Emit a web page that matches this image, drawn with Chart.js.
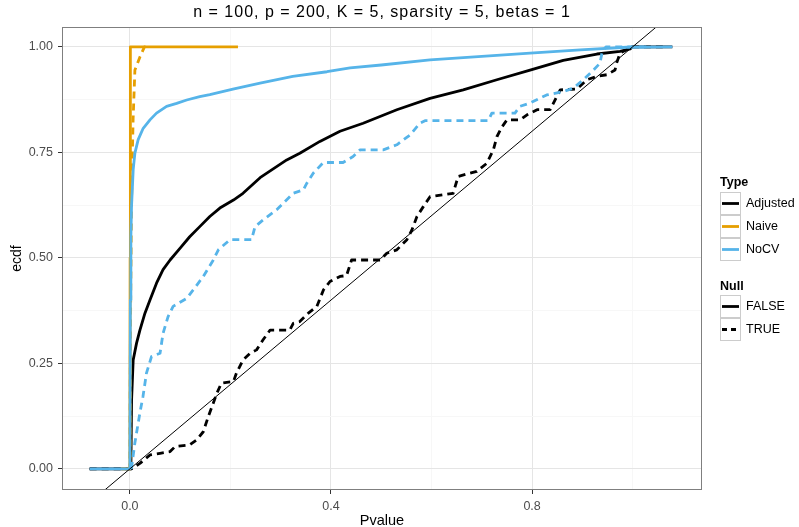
<!DOCTYPE html>
<html>
<head>
<meta charset="utf-8">
<script src="https://cdn.jsdelivr.net/npm/chart.js@4.4.1/dist/chart.umd.min.js"></script>
<style>
  html, body { margin: 0; padding: 0; background: #fff; }
  #wrap { width: 799px; height: 527px; }
</style>
</head>
<body>
<div id="wrap"><canvas id="ecdfChart" width="799" height="527"></canvas></div>
<script>
// eixos
const pvalueTicks = [0, 0.2, 0.4, 0.6, 0.8, 1.0];
const pvalueLabels = ['0.0', '', '0.4', '', '0.8', ''];
const ecdfTicks = [0, 0.125, 0.25, 0.375, 0.5, 0.625, 0.75, 0.875, 1.0];
const ecdfLabels = ['0.00', '', '0.25', '', '0.50', '', '0.75', '', '1.00'];

const chartTitle = 'n = 100, p = 200, K = 5, sparsity = 5, betas = 1';
const typeNames = ['Adjusted', 'Naive', 'NoCV'];
const nullNames = ['FALSE', 'TRUE'];

// Adjusted / FALSE
const adjustedFalseX = [-0.08, 0, 0.002, 0.0034, 0.0066, 0.0133, 0.020, 0.030, 0.040, 0.053, 0.066, 0.080, 0.100, 0.119, 0.139, 0.159, 0.179, 0.206, 0.225, 0.259, 0.312, 0.338, 0.378, 0.418, 0.464, 0.531, 0.597, 0.663, 0.730, 0.796, 0.862, 0.929, 0.975, 0.995, 0.999, 1.079];
const adjustedFalseY = [0, 0, 0, 0.164, 0.258, 0.298, 0.329, 0.369, 0.400, 0.440, 0.472, 0.495, 0.523, 0.550, 0.574, 0.598, 0.618, 0.637, 0.653, 0.690, 0.732, 0.748, 0.776, 0.800, 0.819, 0.851, 0.878, 0.898, 0.922, 0.945, 0.968, 0.983, 0.989, 0.995, 1, 1];

// Adjusted / TRUE
const adjustedTrueX = [-0.08, 0.003, 0.020, 0.040, 0.060, 0.080, 0.090, 0.119, 0.133, 0.146, 0.156, 0.166, 0.173, 0.182, 0.206, 0.212, 0.225, 0.239, 0.252, 0.265, 0.279, 0.318, 0.325, 0.338, 0.355, 0.372, 0.385, 0.398, 0.418, 0.431, 0.441, 0.498, 0.511, 0.531, 0.551, 0.561, 0.571, 0.584, 0.597, 0.643, 0.653, 0.690, 0.710, 0.723, 0.730, 0.740, 0.750, 0.776, 0.790, 0.810, 0.836, 0.849, 0.856, 0.889, 0.909, 0.929, 0.949, 0.965, 0.968, 0.975, 0.988, 0.995, 1.06];
const adjustedTrueY = [0, 0, 0.013, 0.033, 0.037, 0.041, 0.053, 0.057, 0.069, 0.088, 0.124, 0.156, 0.179, 0.203, 0.207, 0.227, 0.258, 0.274, 0.282, 0.306, 0.329, 0.329, 0.345, 0.349, 0.369, 0.385, 0.424, 0.444, 0.456, 0.458, 0.495, 0.495, 0.511, 0.519, 0.543, 0.566, 0.598, 0.622, 0.645, 0.653, 0.693, 0.705, 0.724, 0.756, 0.787, 0.810, 0.827, 0.827, 0.839, 0.851, 0.851, 0.882, 0.898, 0.900, 0.922, 0.930, 0.934, 0.945, 0.961, 0.985, 0.993, 1, 1];

// Naive / FALSE
const naiveFalseX = [-0.017, 0, 0.0005, 0.001, 0.215];
const naiveFalseY = [0, 0, 0.5, 1, 1];

// Naive / TRUE
const naiveTrueX = [-0.003, 0, 0.001, 0.003, 0.005, 0.0065, 0.010, 0.020, 0.029, 0.031];
const naiveTrueY = [0, 0, 0.3, 0.6, 0.75, 0.83, 0.945, 0.976, 1, 1];

// NoCV / FALSE
const noCVFalseX = [-0.08, 0, 0.001, 0.002, 0.0033, 0.0066, 0.010, 0.0165, 0.0265, 0.040, 0.053, 0.073, 0.093, 0.113, 0.139, 0.159, 0.205, 0.259, 0.324, 0.392, 0.438, 0.500, 0.597, 0.796, 0.896, 0.988, 1.079];
const noCVFalseY = [0, 0, 0.40, 0.55, 0.622, 0.709, 0.748, 0.780, 0.807, 0.827, 0.843, 0.859, 0.866, 0.874, 0.882, 0.887, 0.900, 0.914, 0.930, 0.941, 0.950, 0.957, 0.969, 0.985, 0.993, 0.999, 1];

// NoCV / TRUE
const noCVTrueX = [0.003, 0.010, 0.020, 0.026, 0.033, 0.043, 0.060, 0.066, 0.076, 0.086, 0.113, 0.126, 0.146, 0.166, 0.176, 0.199, 0.242, 0.249, 0.265, 0.292, 0.325, 0.345, 0.352, 0.365, 0.385, 0.424, 0.444, 0.458, 0.504, 0.531, 0.557, 0.577, 0.587, 0.713, 0.720, 0.766, 0.776, 0.796, 0.829, 0.862, 0.882, 0.902, 0.922, 0.935, 0.939, 0.947, 1.03];
const noCVTrueY = [0, 0.062, 0.133, 0.171, 0.227, 0.266, 0.274, 0.321, 0.361, 0.385, 0.404, 0.424, 0.456, 0.495, 0.519, 0.543, 0.543, 0.574, 0.590, 0.614, 0.653, 0.661, 0.677, 0.701, 0.726, 0.726, 0.740, 0.756, 0.756, 0.768, 0.791, 0.819, 0.825, 0.825, 0.843, 0.843, 0.859, 0.867, 0.886, 0.894, 0.902, 0.922, 0.945, 0.961, 0.985, 1, 1];

// reta y = x
const diagX = [-0.2, 1.2];
const diagY = [-0.2, 1.2];

const ORANGE = '#E69F00';
const BLUE = '#56B4E9';
const BLACK = '#000000';
const DASH = [7, 5];
const FONT = '"Liberation Sans", Arial, sans-serif';

function pts(xs, ys) {
    return xs.map((x, i) => ({ x: x, y: ys[i] }));
}

function serie(xs, ys, color, dashed, order) {
    return {
        data: pts(xs, ys),
        borderColor: color,
        borderWidth: 2.8,
        borderDash: dashed ? DASH : [],
        borderCapStyle: 'butt',
        borderJoinStyle: 'round',
        showLine: true,
        pointRadius: 0,
        tension: 0,
        order: order
    };
}

// borda do painel (theme_bw)
const panelBorder = {
    id: 'panelBorder',
    afterDatasetsDraw(chart) {
        const a = chart.chartArea;
        const c = chart.ctx;
        c.save();
        c.strokeStyle = '#7f7f7f';
        c.lineWidth = 1;
        c.strokeRect(Math.round(a.left) + 0.5, Math.round(a.top) + 0.5, Math.round(a.right - a.left) - 1, Math.round(a.bottom - a.top) - 1);
        c.restore();
    }
};

// título centrado sobre o painel
const panelTitle = {
    id: 'panelTitle',
    afterDraw(chart) {
        const a = chart.chartArea;
        const c = chart.ctx;
        c.save();
        c.font = '16px ' + FONT;
        c.fillStyle = '#000';
        c.textAlign = 'center';
        c.textBaseline = 'middle';
        if ('letterSpacing' in c) c.letterSpacing = '1px';
        c.fillText(chartTitle, (a.left + a.right) / 2, 13);
        c.restore();
    }
};

// legenda estilo ggplot
const ggLegend = {
    id: 'ggLegend',
    afterDraw(chart) {
        const c = chart.ctx;
        const typeColors = [BLACK, ORANGE, BLUE];
        const keyX = 720, keyW = 21, keyH = 23;
        c.save();
        c.textBaseline = 'middle';

        function key(y, color, dashed) {
            c.fillStyle = '#fff';
            c.fillRect(keyX, y, keyW, keyH);
            c.strokeStyle = '#cccccc';
            c.lineWidth = 1;
            c.strokeRect(keyX + 0.5, y + 0.5, keyW - 1, keyH - 1);
            c.strokeStyle = color;
            c.lineWidth = 2.8;
            c.setLineDash(dashed ? [5, 4] : []);
            c.beginPath();
            c.moveTo(keyX + 2, y + keyH / 2);
            c.lineTo(keyX + keyW - 2, y + keyH / 2);
            c.stroke();
            c.setLineDash([]);
        }

        c.fillStyle = '#000';
        c.font = 'bold 12.5px ' + FONT;
        c.fillText('Type', 720, 183);
        typeNames.forEach((name, i) => {
            const y = 192 + i * keyH;
            key(y, typeColors[i], false);
            c.fillStyle = '#000';
            c.font = '12.5px ' + FONT;
            c.fillText(name, 746, y + keyH / 2);
        });

        c.fillStyle = '#000';
        c.font = 'bold 12.5px ' + FONT;
        c.fillText('Null', 720, 287);
        nullNames.forEach((name, i) => {
            const y = 295 + i * keyH;
            key(y, BLACK, i === 1);
            c.fillStyle = '#000';
            c.font = '12.5px ' + FONT;
            c.fillText(name, 746, y + keyH / 2);
        });
        c.restore();
    }
};

function gridColor(majorLabels, ticks) {
    return function(ctx) {
        const i = ticks.indexOf(ctx.tick ? ctx.tick.value : NaN);
        return i >= 0 && majorLabels[i] !== '' ? '#e5e5e5' : '#f7f7f7';
    };
}
function tickColor(majorLabels, ticks) {
    return function(ctx) {
        const i = ticks.indexOf(ctx.tick ? ctx.tick.value : NaN);
        return i >= 0 && majorLabels[i] !== '' ? '#333333' : 'rgba(0,0,0,0)';
    };
}

const ctx = document.getElementById('ecdfChart').getContext('2d');
new Chart(ctx, {
    type: 'scatter',
    data: {
        datasets: [
            { data: pts(diagX, diagY), borderColor: BLACK, borderWidth: 1, showLine: true, pointRadius: 0, order: 0 },
            serie(noCVTrueX, noCVTrueY, BLUE, true, 1),
            serie(noCVFalseX, noCVFalseY, BLUE, false, 2),
            serie(naiveTrueX, naiveTrueY, ORANGE, true, 3),
            serie(naiveFalseX, naiveFalseY, ORANGE, false, 4),
            serie(adjustedTrueX, adjustedTrueY, BLACK, true, 5),
            serie(adjustedFalseX, adjustedFalseY, BLACK, false, 6)
        ]
    },
    options: {
        responsive: false,
        animation: false,
        layout: { padding: { left: 0, right: 97, top: 27, bottom: 0 } },
        scales: {
            x: {
                type: 'linear',
                min: -0.135,
                max: 1.138,
                afterBuildTicks: axis => { axis.ticks = pvalueTicks.map(v => ({ value: v })); },
                afterFit: axis => { axis.height = 37; },
                border: { display: false },
                grid: {
                    color: gridColor(pvalueLabels, pvalueTicks),
                    tickColor: tickColor(pvalueLabels, pvalueTicks),
                    tickLength: 4,
                    lineWidth: 1
                },
                ticks: {
                    autoSkip: false,
                    maxRotation: 0,
                    padding: 5,
                    color: '#4d4d4d',
                    font: { family: FONT, size: 12.5 },
                    callback: (v, i) => pvalueLabels[i]
                },
                title: {
                    display: true,
                    text: 'Pvalue',
                    color: '#000',
                    font: { family: FONT, size: 14.5 },
                    padding: { top: 0, bottom: -3 }
                }
            },
            y: {
                type: 'linear',
                min: -0.05,
                max: 1.047,
                afterBuildTicks: axis => { axis.ticks = ecdfTicks.map(v => ({ value: v })); },
                afterFit: axis => { axis.width = 62; },
                border: { display: false },
                grid: {
                    color: gridColor(ecdfLabels, ecdfTicks),
                    tickColor: tickColor(ecdfLabels, ecdfTicks),
                    tickLength: 4,
                    lineWidth: 1
                },
                ticks: {
                    autoSkip: false,
                    padding: 5,
                    color: '#4d4d4d',
                    font: { family: FONT, size: 12.5 },
                    callback: (v, i) => ecdfLabels[i]
                },
                title: {
                    display: true,
                    text: 'ecdf',
                    color: '#000',
                    font: { family: FONT, size: 14 },
                    padding: { top: 9, bottom: 0 }
                }
            }
        },
        plugins: {
            legend: { display: false },
            tooltip: { enabled: false },
            title: { display: false }
        }
    },
    plugins: [panelBorder, panelTitle, ggLegend]
});
</script>
</body>
</html>
